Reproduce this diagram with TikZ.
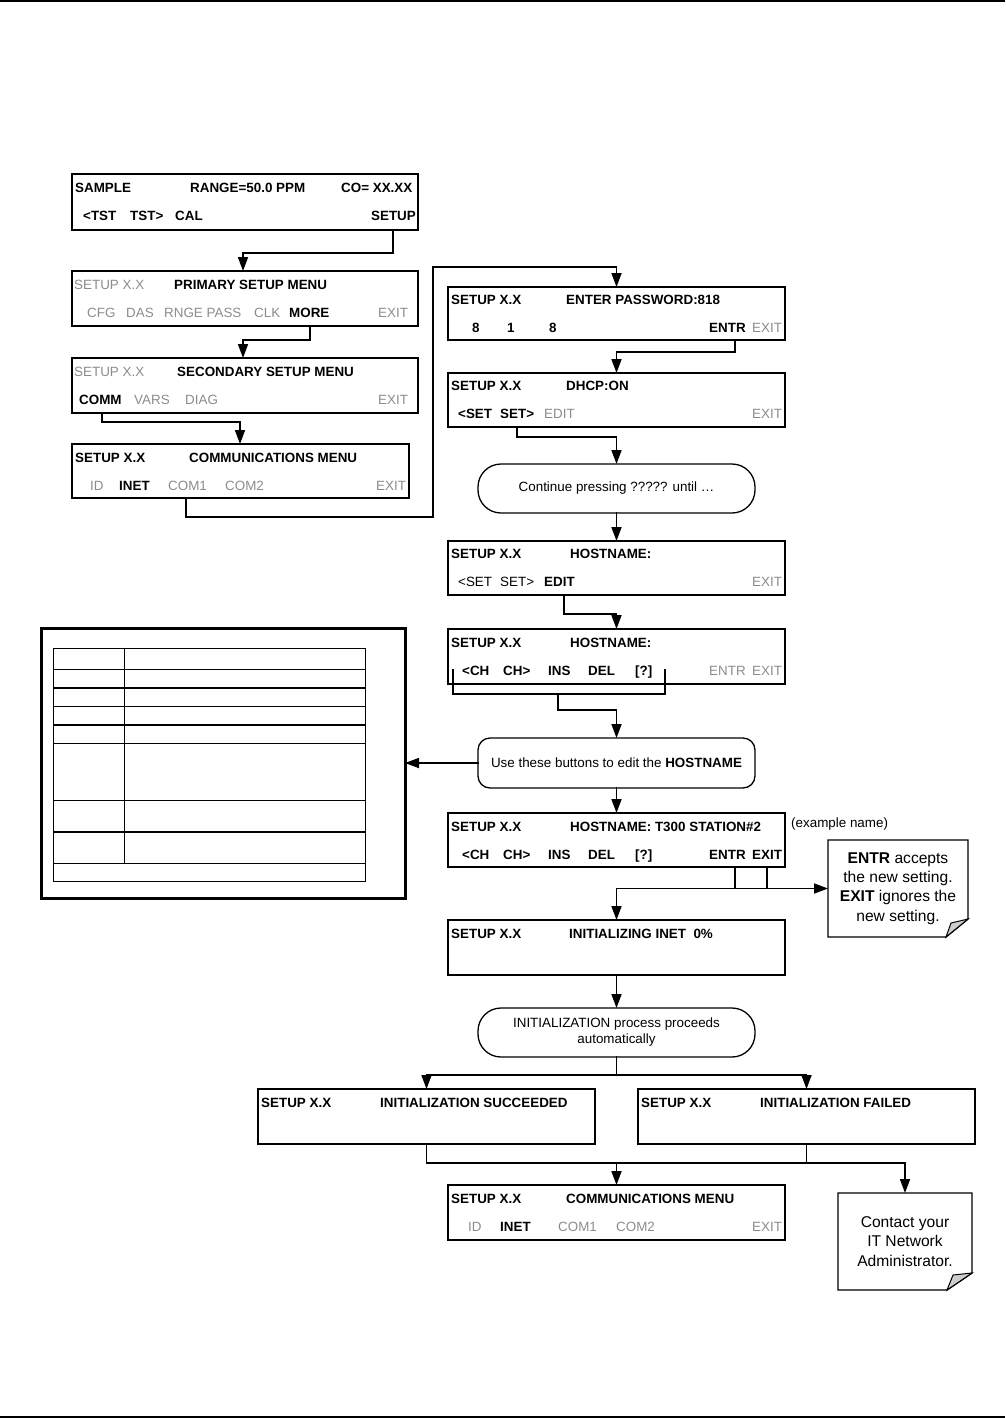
\documentclass[tikz,border=0pt]{standalone}
\usepackage{fontspec}
\setmainfont{Liberation Sans}
\usetikzlibrary{arrows.meta,calc}
\definecolor{lcdgray}{RGB}{140,140,140}
\definecolor{foldgray}{RGB}{205,205,205}
\newcommand\lcdfs{\fontsize{13.4}{16}\selectfont}
\newcommand\notefs{\fontsize{15.6}{19.4}\selectfont}
\begin{document}
\begin{tikzpicture}[x=1pt,y=-1pt,
  scr/.style={draw, line width=1.7pt, inner sep=0pt, outer sep=0pt},
  oval/.style={draw, line width=1.3pt, inner sep=0pt, outer sep=0pt, align=center, font=\lcdfs},
  arr/.style={line width=1.7pt, line cap=rect, -{Triangle[length=14pt,width=10pt]}},
  ln/.style={line width=1.7pt, line cap=rect},
  tt/.style={inner sep=0pt, anchor=base west, font=\lcdfs},
  tb/.style={tt, font=\lcdfs\bfseries},
  tg/.style={tt, text=lcdgray},
  tbl/.style={line width=1pt},
  tblk/.style={line width=2pt},
  note/.style={inner sep=0pt, outer sep=0pt, align=center, font=\notefs},
  noteline/.style={line width=1.4pt, line join=miter}
]
\useasboundingbox (0,0) rectangle (1005,1418);
% page rules
\draw[line width=2pt] (0,1) -- (1005,1);
\draw[line width=2pt] (0,1416.5) -- (1005,1416.5);

% ---------- left column screens ----------
\node[scr, minimum width=346pt, minimum height=56pt] (b1) at (245,202) {};
\node[tb] (b1a) at (75,192) {SAMPLE};
\node[tb] (b1b) at (190,192) {RANGE=50.0 PPM};
\node[tb] (b1c) at (341,192) {CO= XX.XX};
\node[tb] (b1d) at (83,220) {<TST};
\node[tb] (b1e) at (130,220) {TST>};
\node[tb] (b1f) at (175,220) {CAL};
\node[tb, anchor=base east] (b1g) at (416,220) {SETUP};

\node[scr, minimum width=346pt, minimum height=55pt] (b2) at (245,298.5) {};
\node[tg] (b2a) at (74,289) {SETUP X.X};
\node[tb] (b2b) at (174,289) {PRIMARY SETUP MENU};
\node[tg] (b2c) at (87,317) {CFG};
\node[tg] (b2d) at (126,317) {DAS};
\node[tg] (b2e) at (164,317) {RNGE PASS};
\node[tg] (b2f) at (254,317) {CLK};
\node[tb] (b2g) at (289,317) {MORE};
\node[tg] (b2h) at (378,317) {EXIT};

\node[scr, minimum width=346pt, minimum height=55pt] (b3) at (245,385.5) {};
\node[tg] (b3a) at (74,376) {SETUP X.X};
\node[tb] (b3b) at (177,376) {SECONDARY SETUP MENU};
\node[tb] (b3c) at (79,404) {COMM};
\node[tg] (b3d) at (134,404) {VARS};
\node[tg] (b3e) at (185,404) {DIAG};
\node[tg] (b3f) at (378,404) {EXIT};

\node[scr, minimum width=337pt, minimum height=54pt] (b4) at (240.5,471) {};
\node[tb] (b4a) at (75,462) {SETUP X.X};
\node[tb] (b4b) at (189,462) {COMMUNICATIONS MENU};
\node[tg] (b4c) at (90,490) {ID};
\node[tb] (b4d) at (119,490) {INET};
\node[tg] (b4e) at (168,490) {COM1};
\node[tg] (b4f) at (225,490) {COM2};
\node[tg] (b4g) at (376,490) {EXIT};

% ---------- right column screens ----------
\node[scr, minimum width=337pt, minimum height=53pt] (b5) at (616.5,313.5) {};
\node[tb] (b5a) at (451,304) {SETUP X.X};
\node[tb] (b5b) at (566,304) {ENTER PASSWORD:818};
\node[tb] (b5c) at (472,332) {8};
\node[tb] (b5d) at (507,332) {1};
\node[tb] (b5e) at (549,332) {8};
\node[tb] (b5f) at (709,332) {ENTR};
\node[tg] (b5g) at (752,332) {EXIT};

\node[scr, minimum width=337pt, minimum height=54pt] (b6) at (616.5,400) {};
\node[tb] (b6a) at (451,390) {SETUP X.X};
\node[tb] (b6b) at (566,390) {DHCP:ON};
\node[tb] (b6c) at (458,418) {<SET};
\node[tb] (b6d) at (500,418) {SET>};
\node[tg] (b6e) at (544,418) {EDIT};
\node[tg] (b6f) at (752,418) {EXIT};

\node[oval, rounded corners=23pt, minimum width=277pt, minimum height=49pt] (o1) at (616.5,488.5) {Continue pressing ????? until …};

\node[scr, minimum width=337pt, minimum height=54pt] (b8) at (616.5,568) {};
\node[tb] (b8a) at (451,558) {SETUP X.X};
\node[tb] (b8b) at (570,558) {HOSTNAME:};
\node[tt] (b8c) at (458,586) {<SET};
\node[tt] (b8d) at (500,586) {SET>};
\node[tb] (b8e) at (544,586) {EDIT};
\node[tg] (b8f) at (752,586) {EXIT};

\node[scr, minimum width=337pt, minimum height=55pt] (b9) at (616.5,656.5) {};
\node[tb] (b9a) at (451,647) {SETUP X.X};
\node[tb] (b9b) at (570,647) {HOSTNAME:};
\node[tb] (b9c) at (462,675) {<CH};
\node[tb] (b9d) at (503,675) {CH>};
\node[tb] (b9e) at (548,675) {INS};
\node[tb] (b9f) at (588,675) {DEL};
\node[tb] (b9g) at (635,675) {[?]};
\node[tg] (b9h) at (709,675) {ENTR};
\node[tg] (b9i) at (752,675) {EXIT};

\node[oval, rounded corners=12pt, minimum width=277pt, minimum height=50pt] (o2) at (616.5,763) {Use these buttons to edit the \textbf{HOSTNAME}};

\node[scr, minimum width=337pt, minimum height=54pt] (b11) at (616.5,840) {};
\node[tb] (b11a) at (451,831) {SETUP X.X};
\node[tb] (b11b) at (570,831) {HOSTNAME: T300 STATION\#2};
\node[tb] (b11c) at (462,859) {<CH};
\node[tb] (b11d) at (503,859) {CH>};
\node[tb] (b11e) at (548,859) {INS};
\node[tb] (b11f) at (588,859) {DEL};
\node[tb] (b11g) at (635,859) {[?]};
\node[tb] (b11h) at (709,859) {ENTR};
\node[tb] (b11i) at (752,859) {EXIT};
\node[tt] (exname) at (791,827) {(example name)};

% note 1
\node[note, minimum width=140pt, minimum height=97pt] (n1) at (898,888.5)
  {\textbf{ENTR} accepts\\the new setting.\\\textbf{EXIT} ignores the\\new setting.};
\draw[noteline] (n1.north west) -- (n1.north east) -- ($(n1.south east)+(0,-18)$)
  -- ($(n1.south east)+(-22,0)$) -- (n1.south west) -- cycle;
\draw[line width=1pt, fill=foldgray] ($(n1.south east)+(0,-18)$) -- ($(n1.south east)+(-17,-14)$)
  -- ($(n1.south east)+(-22,0)$) -- cycle;

\node[scr, minimum width=337pt, minimum height=55pt] (b14) at (616.5,947.5) {};
\node[tb] (b14a) at (451,938) {SETUP X.X};
\node[tb] (b14b) at (569,938) {INITIALIZING INET\ \ 0\%};

\node[oval, rounded corners=23pt, minimum width=277pt, minimum height=49pt] (o3) at (616.5,1032.5)
  {INITIALIZATION process proceeds\\automatically};

\node[scr, minimum width=337pt, minimum height=55pt] (b16) at (426.5,1116.5) {};
\node[tb] (b16a) at (261,1107) {SETUP X.X};
\node[tb] (b16b) at (380,1107) {INITIALIZATION SUCCEEDED};

\node[scr, minimum width=337pt, minimum height=55pt] (b17) at (806.5,1116.5) {};
\node[tb] (b17a) at (641,1107) {SETUP X.X};
\node[tb] (b17b) at (760,1107) {INITIALIZATION FAILED};

\node[scr, minimum width=337pt, minimum height=55pt] (b18) at (616.5,1212.5) {};
\node[tb] (b18a) at (451,1203) {SETUP X.X};
\node[tb] (b18b) at (566,1203) {COMMUNICATIONS MENU};
\node[tg] (b18c) at (468,1231) {ID};
\node[tb] (b18d) at (500,1231) {INET};
\node[tg] (b18e) at (558,1231) {COM1};
\node[tg] (b18f) at (616,1231) {COM2};
\node[tg] (b18g) at (752,1231) {EXIT};

% note 2
\node[note, minimum width=134pt, minimum height=97pt] (n2) at (905,1241.5)
  {Contact your\\IT Network\\Administrator.};
\draw[noteline] (n2.north west) -- (n2.north east) -- ($(n2.south east)+(0,-17)$)
  -- ($(n2.south east)+(-25,0)$) -- (n2.south west) -- cycle;
\draw[line width=1pt, fill=foldgray] ($(n2.south east)+(0,-17)$) -- ($(n2.south east)+(-19,-15)$)
  -- ($(n2.south east)+(-25,0)$) -- cycle;

% ---------- big box with empty table ----------
\node[draw, line width=3pt, inner sep=0pt, outer sep=0pt, minimum width=364pt, minimum height=270pt] (big) at (223,763) {};
\draw[tbl] (53,648) rectangle (365,881);
\draw[tbl] (124,648) -- (124,863);
\draw[tbl] (53,669) -- (365,669);
\draw[tblk] (53,688) -- (365,688);
\draw[tbl] (53,706) -- (365,706);
\draw[tblk] (53,725) -- (365,725);
\draw[tbl] (53,743) -- (365,743);
\draw[tbl] (53,800) -- (365,800);
\draw[tblk] (53,832) -- (365,832);
\draw[tbl] (53,863) -- (365,863);

% ---------- connectors ----------
\draw[arr] ($(b1.south west)+(321,0)$) -- ++(0,23) -| ($(b2.north west)+(171,0)$);
\draw[arr] ($(b2.south west)+(238,0)$) -- ++(0,14) -| ($(b3.north west)+(171,0)$);
\draw[arr] ($(b3.south west)+(30,0)$) -- ++(0,9) -| ($(b4.north west)+(168,0)$);
\draw[arr] ($(b4.south west)+(114,0)$) -- ++(0,19) -| ($(b5.north)+(-183.5,-20)$) -| (b5.north);
\draw[arr] ($(b5.south west)+(287,0)$) -- ++(0,12) -| (b6.north);
\draw[arr] ($(b6.south west)+(69,0)$) -- ++(0,10) -| (o1.north);
\draw[arr] (o1.south) -- (b8.north);
\draw[arr] ($(b8.south west)+(116,0)$) -- ++(0,19) -| (b9.north);
\draw[ln] ($(b9.south west)+(5,-14)$) |- ($(b9.south west)+(217,10)$) -- ($(b9.south west)+(217,-14)$);
\draw[arr] ($(b9.south west)+(110,10)$) -- ++(0,16) -| (o2.north);
\draw[arr] (o2.south) -- (b11.north);
\draw[arr] (o2.west) -- (big.east);
\coordinate (j1) at (b14.north |- n1.west);
\coordinate (kE) at ($(b11.south west)+(287,0)$);
\coordinate (kX) at ($(b11.south west)+(319,0)$);
\draw[ln] (kE) -- (kE |- j1);
\draw[ln] (kX) -- (kX |- j1);
\draw[arr] (j1) -- (n1.west);
\draw[arr] (j1) -- (b14.north);
\draw[arr] (b14.south) -- (o3.north);
\coordinate (j2) at ($(o3.south)+(0,18)$);
\draw[ln] (o3.south) -- (j2);
\draw[arr] (j2) -| (b16.north);
\draw[arr] (j2) -| (b17.north);
\coordinate (j3) at ($(b18.north)+(0,-22)$);
\draw[arr] (b16.south) |- (j3) -| (n2.north);
\draw[ln] (b17.south) -- (b17.south |- j3);
\draw[arr] (j3) -- (b18.north);
\end{tikzpicture}
\end{document}
